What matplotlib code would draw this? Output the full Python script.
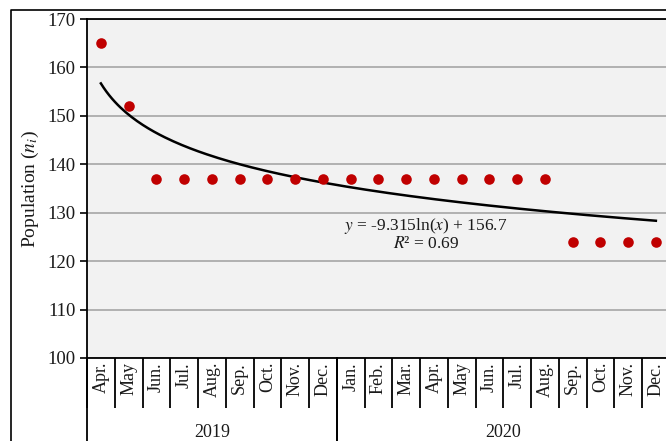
import numpy as np
import matplotlib
matplotlib.use("Agg")
import matplotlib.pyplot as plt
from matplotlib.lines import Line2D
import matplotlib.transforms as mtransforms

months = ["Apr.", "May", "Jun.", "Jul.", "Aug.", "Sep.", "Oct.", "Nov.", "Dec.",
          "Jan.", "Feb.", "Mar.", "Apr.", "May", "Jun.", "Jul.", "Aug.",
          "Sep.", "Oct.", "Nov.", "Dec."]
years = ["2019", "2020"]
year_counts = [9, 12]
population = [165, 152, 137, 137, 137, 137, 137, 137, 137,
              137, 137, 137, 137, 137, 137, 137, 137,
              124, 124, 124, 124]

plt.rcParams["font.family"] = ["Liberation Serif", "DejaVu Serif"]
plt.rcParams["mathtext.fontset"] = "stix"

W, H = 666, 441
fig = plt.figure(figsize=(W / 100, H / 100), dpi=100)
ax = fig.add_axes([87 / W, 83 / H, 21 * 27.75 / W, 339 / H])
ax.set_facecolor("#f2f2f2")

x = np.arange(1, len(population) + 1)
y = np.array(population, dtype=float)

# log trend line fitted to the data
b, a = np.polyfit(np.log(x), y, 1)
xs = np.linspace(1, len(x), 200)
ax.plot(xs, b * np.log(xs) + a, color="black", lw=1.8, zorder=3)

ax.scatter(x, y, s=58, color="#c00000", zorder=4, linewidths=0)

ax.set_xlim(0.5, len(x) + 0.5)
ax.set_ylim(100, 170)
ax.set_yticks(range(100, 171, 10))
ax.yaxis.grid(True, color="#a6a6a6", lw=1.2)
ax.set_axisbelow(True)
ax.tick_params(axis="y", length=5, width=1.2, pad=3, labelsize=13.5,
               labelcolor="#1a1a1a", color="black")
for s in ax.spines.values():
    s.set_color("black")
    s.set_linewidth(1.3)

# month labels and separators
ax.set_xticks(x)
ax.set_xticklabels([])
ax.tick_params(axis="x", which="major", length=0)
ax.set_xticks(np.arange(0.5, len(x) + 1), minor=True)
ax.tick_params(axis="x", which="minor", length=36, width=1.3, color="black", direction="out")
trans = mtransforms.blended_transform_factory(ax.transData, ax.transAxes)
for xi, m in zip(x, months):
    ax.text(xi, -0.012, m, transform=trans, rotation=90, ha="center", va="top",
            fontsize=13, color="#1a1a1a")

# year row
start = 0.5
for yr, n in zip(years, year_counts):
    end = start + n
    ax.text((start + end) / 2, -0.22, yr, transform=trans, ha="center", va="center",
            fontsize=13, color="#1a1a1a")
    for xb in (start, end):
        ax.add_line(Line2D([xb, xb], [0, -0.35], transform=trans, color="black",
                           lw=1.3, clip_on=False))
    start = end

ax.set_ylabel(r"Population ($n_i$)", fontsize=14, color="#1a1a1a", labelpad=5)

ax.text(12.72, 125.6, "$y$ = -9.315ln($x$) + 156.7\n$R$² = 0.69",
        ha="center", va="center", multialignment="center", fontsize=12.5,
        color="#1a1a1a", linespacing=1.05)

# outer chart frame
fig.add_artist(Line2D([11 / W, 11 / W, 1.0], [0, 1 - 10 / H, 1 - 10 / H],
                      transform=fig.transFigure, color="black", lw=1.2))

fig.savefig("out.png", dpi=100)
